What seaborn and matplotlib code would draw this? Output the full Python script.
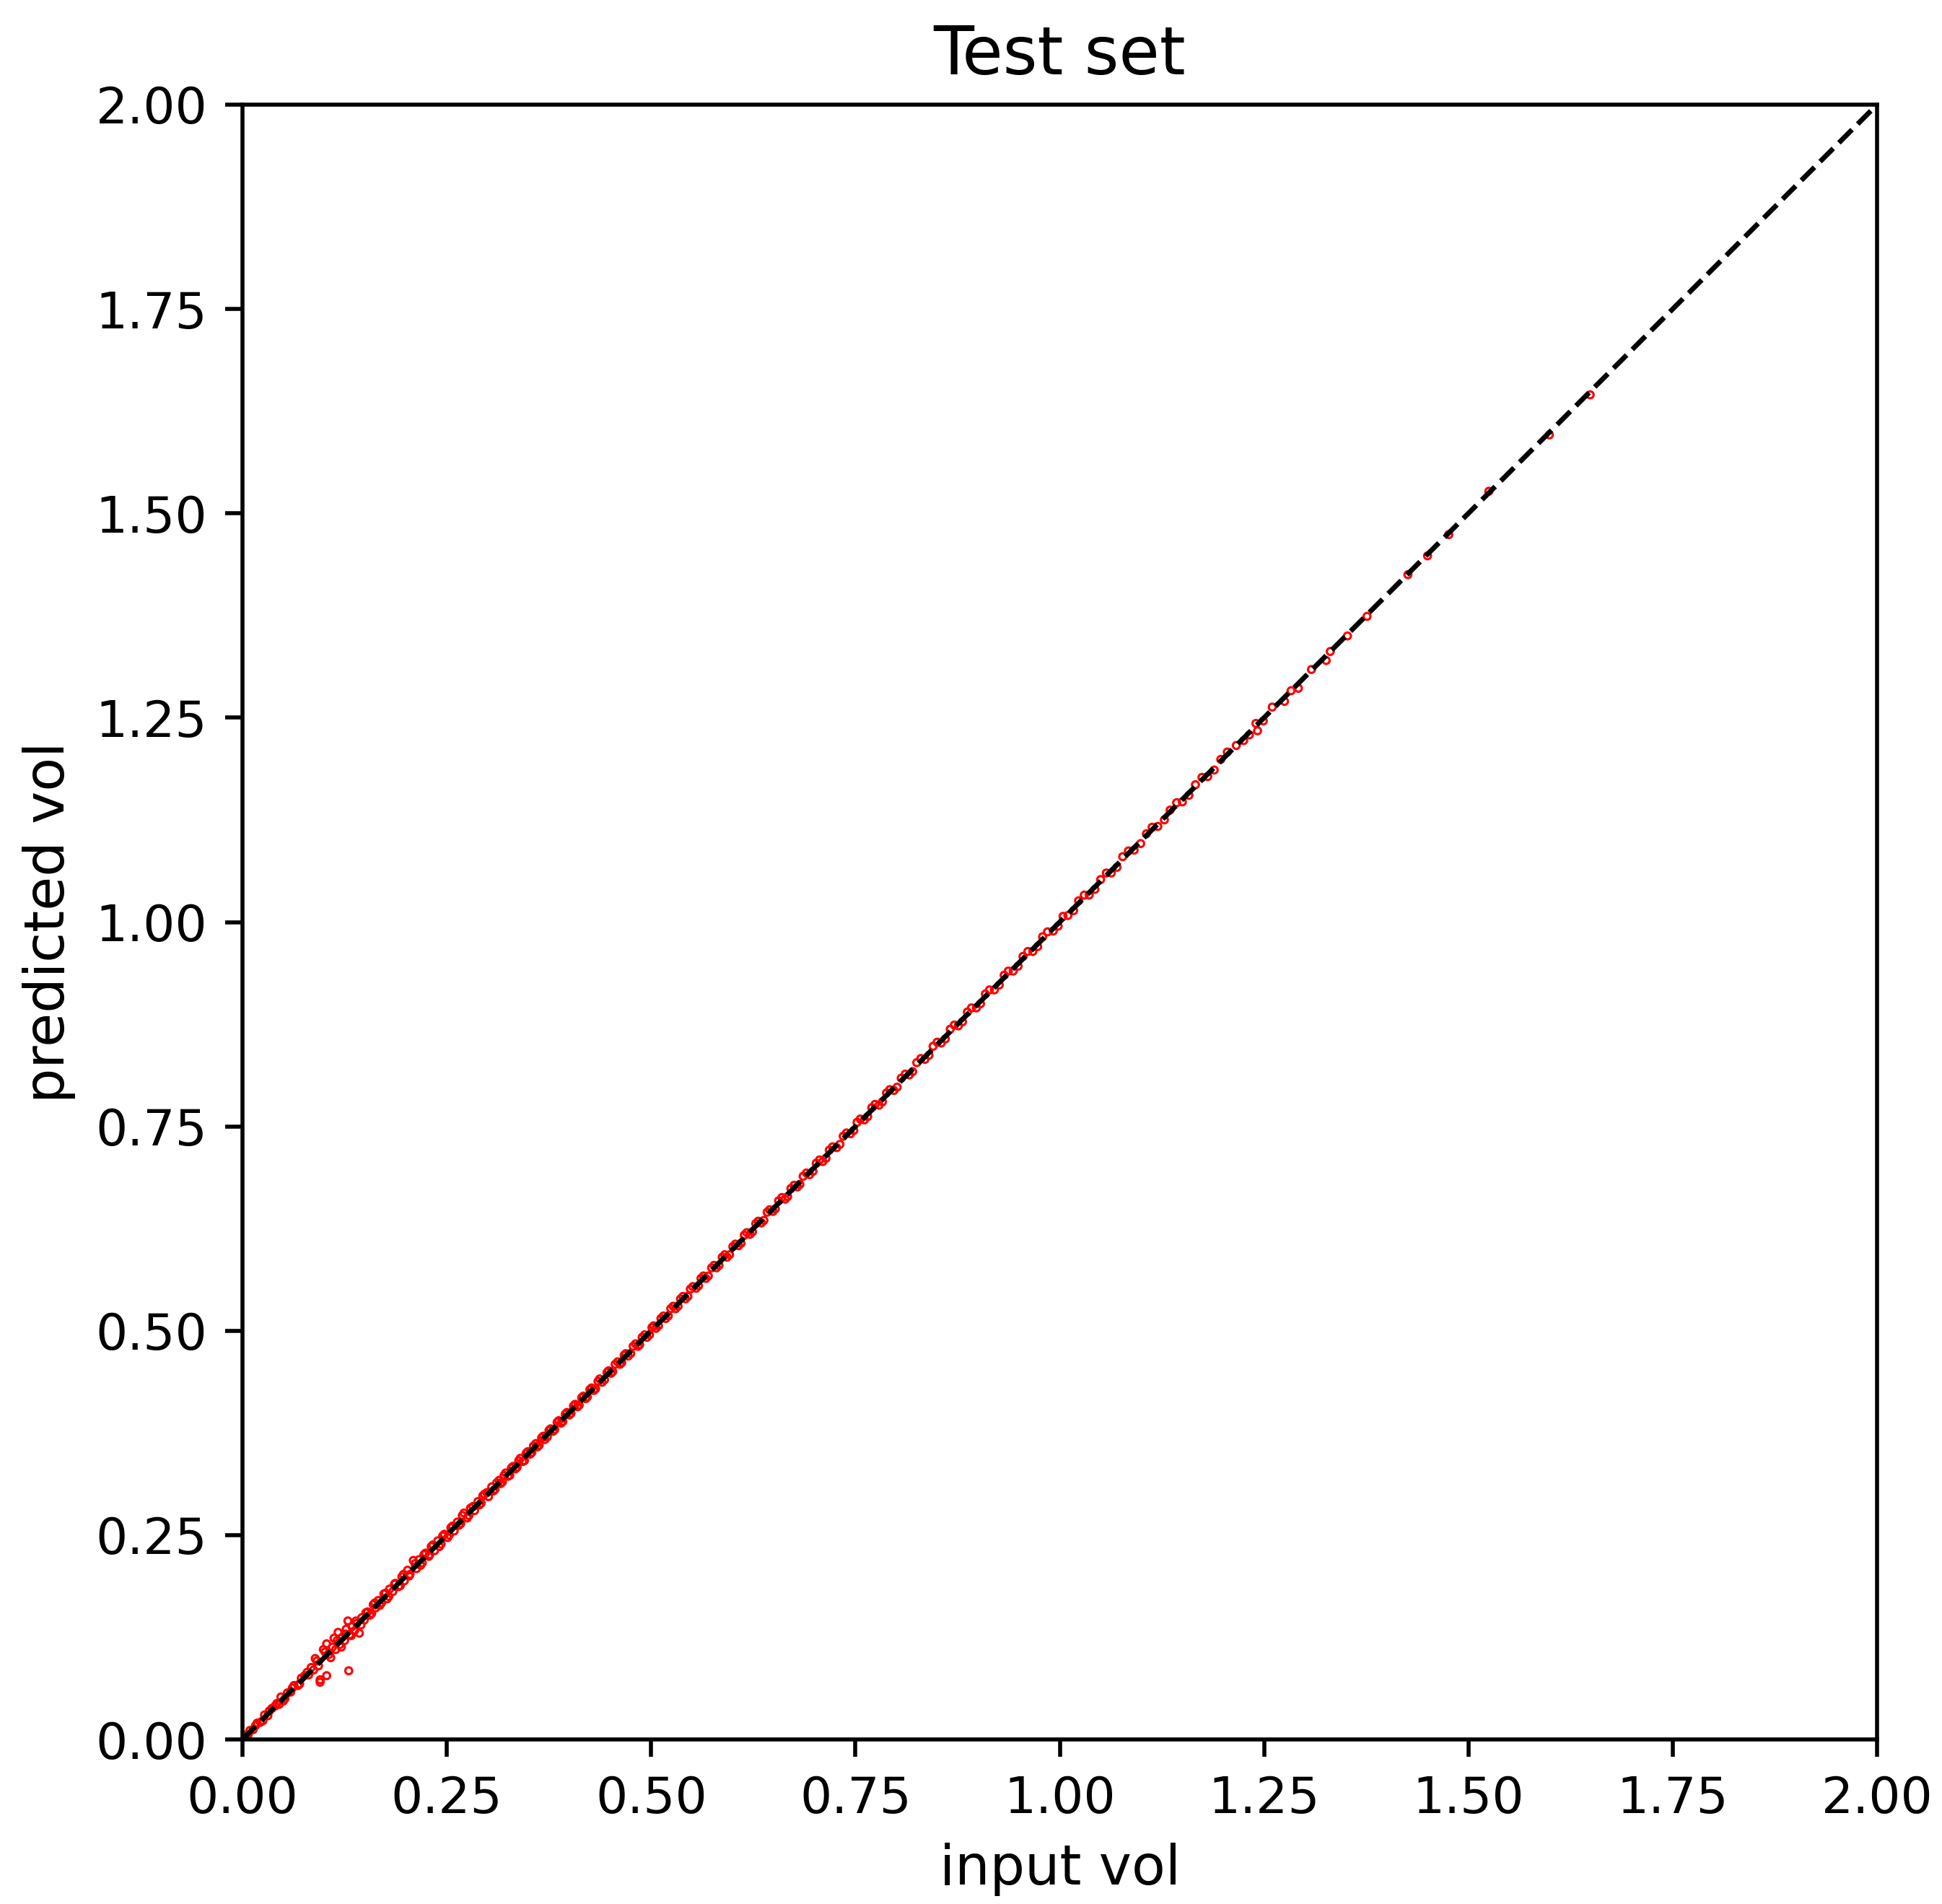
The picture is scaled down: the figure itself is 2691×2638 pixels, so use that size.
import matplotlib
matplotlib.use("Agg")
import matplotlib.pyplot as plt
import seaborn as sns
import pandas as pd

# (input vol, predicted vol) points
input_vol = [
    0.004, 0.009, 0.013, 0.018, 0.022, 0.027, 0.031, 0.036, 0.040, 0.045,
    0.050, 0.047, 0.055, 0.059, 0.063, 0.068, 0.072, 0.076, 0.081, 0.084,
    0.089, 0.093, 0.095, 0.095, 0.099, 0.103, 0.103, 0.106, 0.110, 0.112,
    0.114, 0.117, 0.119, 0.122, 0.125, 0.127, 0.129, 0.130, 0.131, 0.134,
    0.137, 0.140, 0.143, 0.146, 0.149, 0.153, 0.156, 0.160, 0.163, 0.166,
    0.170, 0.173, 0.177, 0.180, 0.184, 0.187, 0.191, 0.195, 0.198, 0.202,
    0.205, 0.209, 0.213, 0.216, 0.220, 0.224, 0.228, 0.231, 0.235, 0.239,
    0.243, 0.247, 0.251, 0.255, 0.259, 0.263, 0.267, 0.271, 0.275, 0.279,
    0.284, 0.288, 0.292, 0.296, 0.301, 0.305, 0.309, 0.314, 0.318, 0.322,
    0.327, 0.331, 0.336, 0.340, 0.345, 0.349, 0.354, 0.359, 0.363, 0.368,
    0.373, 0.377, 0.382, 0.387, 0.392, 0.397, 0.402, 0.407, 0.412, 0.417,
    0.422, 0.427, 0.432, 0.437, 0.443, 0.448, 0.453, 0.459, 0.464, 0.469,
    0.475, 0.481, 0.486, 0.492, 0.498, 0.503, 0.509, 0.515, 0.521, 0.527,
    0.533, 0.539, 0.545, 0.551, 0.558, 0.564, 0.570, 0.577, 0.583, 0.590,
    0.596, 0.603, 0.610, 0.617, 0.624, 0.631, 0.638, 0.645, 0.652, 0.660,
    0.667, 0.675, 0.682, 0.690, 0.698, 0.706, 0.714, 0.722, 0.731, 0.739,
    0.748, 0.756, 0.765, 0.774, 0.783, 0.792, 0.801, 0.811, 0.820, 0.830,
    0.840, 0.850, 0.860, 0.871, 0.881, 0.892, 0.903, 0.914, 0.926, 0.937,
    0.949, 0.961, 0.973, 0.985, 0.998, 1.010, 1.023, 1.036, 1.050, 1.063,
    1.077, 1.091, 1.106, 1.120, 1.135, 1.150, 1.166, 1.181, 1.197, 1.216,
    1.225, 1.240, 1.242, 1.249, 1.260, 1.275, 1.283, 1.292, 1.308, 1.326,
    1.331, 1.352, 1.376, 1.426, 1.450, 1.476, 1.525, 1.599, 1.649,
    0.007, 0.016, 0.025, 0.033, 0.042, 0.052, 0.061, 0.070, 0.079, 0.087,
    0.091, 0.101, 0.108, 0.116, 0.121, 0.126, 0.133, 0.139, 0.145, 0.151,
    0.158, 0.162, 0.168, 0.175, 0.179, 0.186, 0.193, 0.197, 0.204, 0.211,
    0.218, 0.222, 0.229, 0.233, 0.241, 0.245, 0.253, 0.257, 0.265, 0.269,
    0.277, 0.282, 0.290, 0.294, 0.299, 0.307, 0.311, 0.316, 0.320, 0.325,
    0.329, 0.334, 0.338, 0.343, 0.347, 0.352, 0.356, 0.361, 0.366, 0.370,
    0.375, 0.380, 0.385, 0.390, 0.395, 0.400, 0.405, 0.410, 0.415, 0.420,
    0.425, 0.430, 0.435, 0.440, 0.446, 0.451, 0.456, 0.462, 0.467, 0.472,
    0.478, 0.484, 0.489, 0.495, 0.501, 0.506, 0.512, 0.518, 0.524, 0.530,
    0.536, 0.542, 0.548, 0.555, 0.561, 0.567, 0.574, 0.580, 0.587, 0.593,
    0.600, 0.607, 0.614, 0.621, 0.628, 0.635, 0.642, 0.649, 0.656, 0.664,
    0.671, 0.679, 0.686, 0.694, 0.702, 0.710, 0.718, 0.727, 0.735, 0.744,
    0.752, 0.761, 0.770, 0.779, 0.788, 0.797, 0.806, 0.816, 0.825, 0.835,
    0.845, 0.855, 0.866, 0.876, 0.887, 0.898, 0.909, 0.920, 0.932, 0.943,
    0.955, 0.967, 0.979, 0.992, 1.004, 1.017, 1.030, 1.043, 1.057, 1.070,
    1.084, 1.099, 1.113, 1.128, 1.143, 1.158, 1.174, 1.189, 1.205, 1.232,
]
predicted_vol = [
    0.005, 0.011, 0.012, 0.020, 0.021, 0.030, 0.029, 0.038, 0.041, 0.043,
    0.047, 0.052, 0.057, 0.058, 0.066, 0.066, 0.075, 0.078, 0.079, 0.088,
    0.099, 0.090, 0.073, 0.070, 0.110, 0.117, 0.078, 0.104, 0.113, 0.124,
    0.110, 0.131, 0.116, 0.125, 0.121, 0.135, 0.145, 0.084, 0.128, 0.138,
    0.133, 0.142, 0.130, 0.149, 0.146, 0.156, 0.152, 0.165, 0.161, 0.170,
    0.167, 0.178, 0.172, 0.184, 0.181, 0.191, 0.187, 0.199, 0.194, 0.207,
    0.202, 0.219, 0.209, 0.220, 0.216, 0.228, 0.224, 0.236, 0.231, 0.243,
    0.239, 0.251, 0.247, 0.259, 0.255, 0.266, 0.264, 0.277, 0.271, 0.283,
    0.280, 0.291, 0.289, 0.300, 0.297, 0.309, 0.306, 0.317, 0.315, 0.326,
    0.323, 0.334, 0.333, 0.344, 0.341, 0.352, 0.351, 0.362, 0.360, 0.371,
    0.370, 0.380, 0.379, 0.390, 0.389, 0.400, 0.399, 0.410, 0.409, 0.420,
    0.419, 0.430, 0.429, 0.441, 0.440, 0.451, 0.450, 0.462, 0.461, 0.472,
    0.472, 0.484, 0.483, 0.495, 0.495, 0.506, 0.506, 0.518, 0.518, 0.530,
    0.530, 0.542, 0.542, 0.554, 0.555, 0.567, 0.567, 0.580, 0.580, 0.593,
    0.593, 0.606, 0.607, 0.620, 0.621, 0.634, 0.635, 0.648, 0.649, 0.663,
    0.664, 0.678, 0.679, 0.693, 0.695, 0.709, 0.711, 0.725, 0.728, 0.742,
    0.745, 0.759, 0.762, 0.777, 0.780, 0.795, 0.798, 0.814, 0.817, 0.833,
    0.837, 0.853, 0.857, 0.874, 0.878, 0.895, 0.900, 0.917, 0.923, 0.940,
    0.946, 0.964, 0.970, 0.988, 0.995, 1.008, 1.026, 1.033, 1.052, 1.060,
    1.080, 1.088, 1.108, 1.117, 1.137, 1.147, 1.168, 1.178, 1.199, 1.216,
    1.222, 1.243, 1.234, 1.246, 1.263, 1.270, 1.283, 1.286, 1.309, 1.320,
    1.331, 1.350, 1.374, 1.425, 1.448, 1.474, 1.527, 1.596, 1.645,
    0.006, 0.017, 0.023, 0.035, 0.044, 0.050, 0.063, 0.068, 0.082, 0.085,
    0.096, 0.107, 0.100, 0.121, 0.113, 0.129, 0.127, 0.145, 0.140, 0.155,
    0.154, 0.167, 0.164, 0.179, 0.175, 0.190, 0.188, 0.202, 0.200, 0.215,
    0.213, 0.226, 0.226, 0.238, 0.236, 0.249, 0.250, 0.261, 0.262, 0.274,
    0.274, 0.285, 0.287, 0.298, 0.302, 0.304, 0.314, 0.313, 0.323, 0.322,
    0.332, 0.331, 0.341, 0.340, 0.350, 0.349, 0.359, 0.358, 0.369, 0.367,
    0.378, 0.377, 0.388, 0.387, 0.398, 0.397, 0.408, 0.407, 0.418, 0.417,
    0.428, 0.427, 0.438, 0.437, 0.449, 0.448, 0.459, 0.459, 0.470, 0.469,
    0.481, 0.481, 0.492, 0.492, 0.504, 0.503, 0.515, 0.515, 0.527, 0.527,
    0.539, 0.539, 0.551, 0.552, 0.564, 0.564, 0.577, 0.577, 0.590, 0.590,
    0.603, 0.604, 0.617, 0.618, 0.631, 0.632, 0.645, 0.646, 0.659, 0.661,
    0.674, 0.676, 0.689, 0.691, 0.705, 0.707, 0.721, 0.724, 0.738, 0.741,
    0.755, 0.758, 0.773, 0.776, 0.791, 0.794, 0.809, 0.813, 0.828, 0.832,
    0.848, 0.852, 0.869, 0.873, 0.890, 0.895, 0.912, 0.917, 0.935, 0.940,
    0.958, 0.964, 0.982, 0.989, 1.007, 1.014, 1.033, 1.040, 1.060, 1.067,
    1.087, 1.096, 1.116, 1.125, 1.146, 1.155, 1.177, 1.186, 1.208, 1.229,
]
diag = [0.0, 2.0]
ticks = [0.0, 0.25, 0.5, 0.75, 1.0, 1.25, 1.5, 1.75, 2.0]

df = pd.DataFrame({"input vol": input_vol, "predicted vol": predicted_vol})

W, H, DPI = 2691, 2638, 500
fig = plt.figure(figsize=(W / DPI, H / DPI), dpi=DPI)
ax = fig.add_axes([336 / W, (H - 2410) / H, 2265 / W, 2265 / H])

sns.scatterplot(data=df, x="input vol", y="predicted vol", ax=ax,
                marker="o", s=1.9, facecolor="none", edgecolor="red",
                linewidth=0.45, zorder=2, legend=False)
sns.lineplot(x=diag, y=diag, ax=ax, color="black", linestyle="--",
             linewidth=1.0, zorder=3)

ax.set_xlim(0, 2)
ax.set_ylim(0, 2)
ax.set_xticks(ticks)
ax.set_yticks(ticks)
ax.set_xticklabels([f"{t:.2f}" for t in ticks])
ax.set_yticklabels([f"{t:.2f}" for t in ticks])
ax.set_xlabel("input vol", fontsize=11)
ax.set_ylabel("predicted vol", fontsize=11)
ax.set_title("Test set", fontsize=13.2)

fig.savefig("out.png", dpi=DPI)
